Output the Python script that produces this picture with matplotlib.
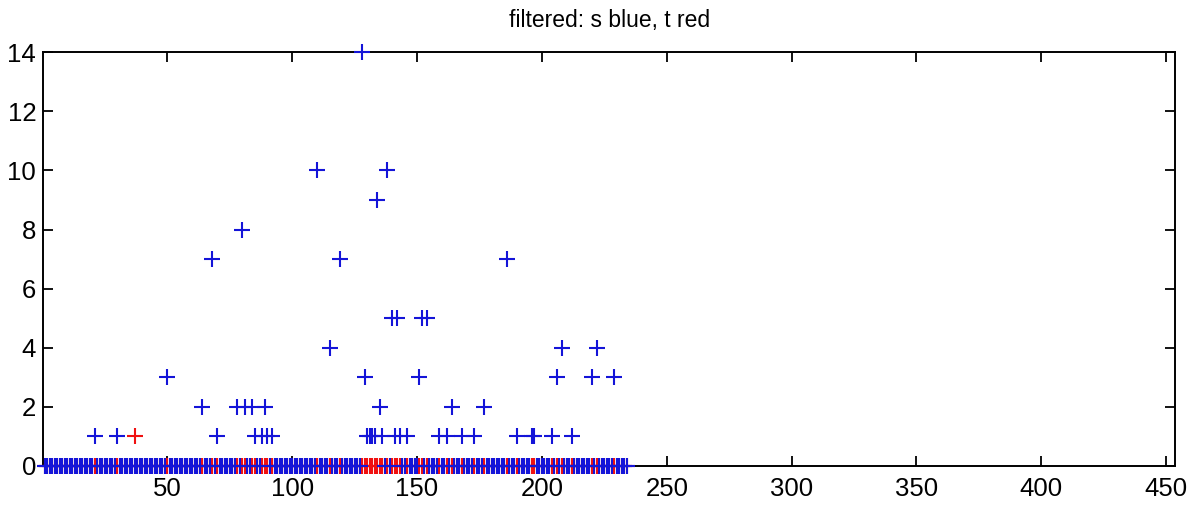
import matplotlib
matplotlib.use("Agg")
import matplotlib.pyplot as plt
import numpy as np

# series length and the non-zero entries of s (blue) and t (red)
n_points = 234
s_idx = [21, 30, 50, 64, 68, 70, 78, 80, 81, 84,
         85, 88, 89, 90, 92, 110, 115, 119, 128, 129,
         130, 131, 132, 133, 134, 135, 136, 138, 140, 141,
         142, 143, 146, 151, 152, 154, 159, 162, 164, 168,
         173, 177, 186, 190, 196, 197, 204, 206, 208, 212,
         220, 222, 229]
s_val = [1, 1, 3, 2, 7, 1, 2, 8, 2, 2,
         1, 1, 2, 1, 1, 10, 4, 7, 14, 3,
         1, 1, 1, 1, 9, 2, 1, 10, 5, 1,
         5, 1, 1, 3, 5, 5, 1, 1, 2, 1,
         1, 2, 7, 1, 1, 1, 1, 3, 4, 1,
         3, 4, 3]
t_idx = [37]
t_val = [1]

x_ticks = [50, 100, 150, 200, 250, 300, 350, 400, 450]
y_ticks = [0, 2, 4, 6, 8, 10, 12, 14]

x = np.arange(1, n_points + 1)
s = np.zeros(n_points)
s[np.array(s_idx) - 1] = s_val
t = np.zeros(n_points)
t[np.array(t_idx) - 1] = t_val

plt.rcParams["font.family"] = ["Liberation Sans", "DejaVu Sans"]

fig = plt.figure(figsize=(11.98, 5.08), dpi=100)
ax = fig.add_axes([0.036, 0.083, 0.945, 0.814])

# t first, s on top (so red only shows where s is non-zero)
ax.plot(x, t, "+", color="#f01010", markersize=11, markeredgewidth=1.5,
        clip_on=False, zorder=3)
ax.plot(x, s, "+", color="#1414d8", markersize=11, markeredgewidth=1.5,
        clip_on=False, zorder=4)

ax.set_xlim(0.3, 453.6)
ax.set_ylim(0, 14)
ax.set_xticks(x_ticks)
ax.set_yticks(y_ticks)
ax.tick_params(direction="in", length=7, width=1.3, top=True, right=True,
               labelsize=18.5)
ax.tick_params(axis="x", pad=8)
ax.tick_params(axis="y", pad=5)
for sp in ax.spines.values():
    sp.set_linewidth(1.4)
ax.set_title("filtered: s blue, t red", fontsize=16.5, pad=18)

fig.savefig("out.png", dpi=100)
